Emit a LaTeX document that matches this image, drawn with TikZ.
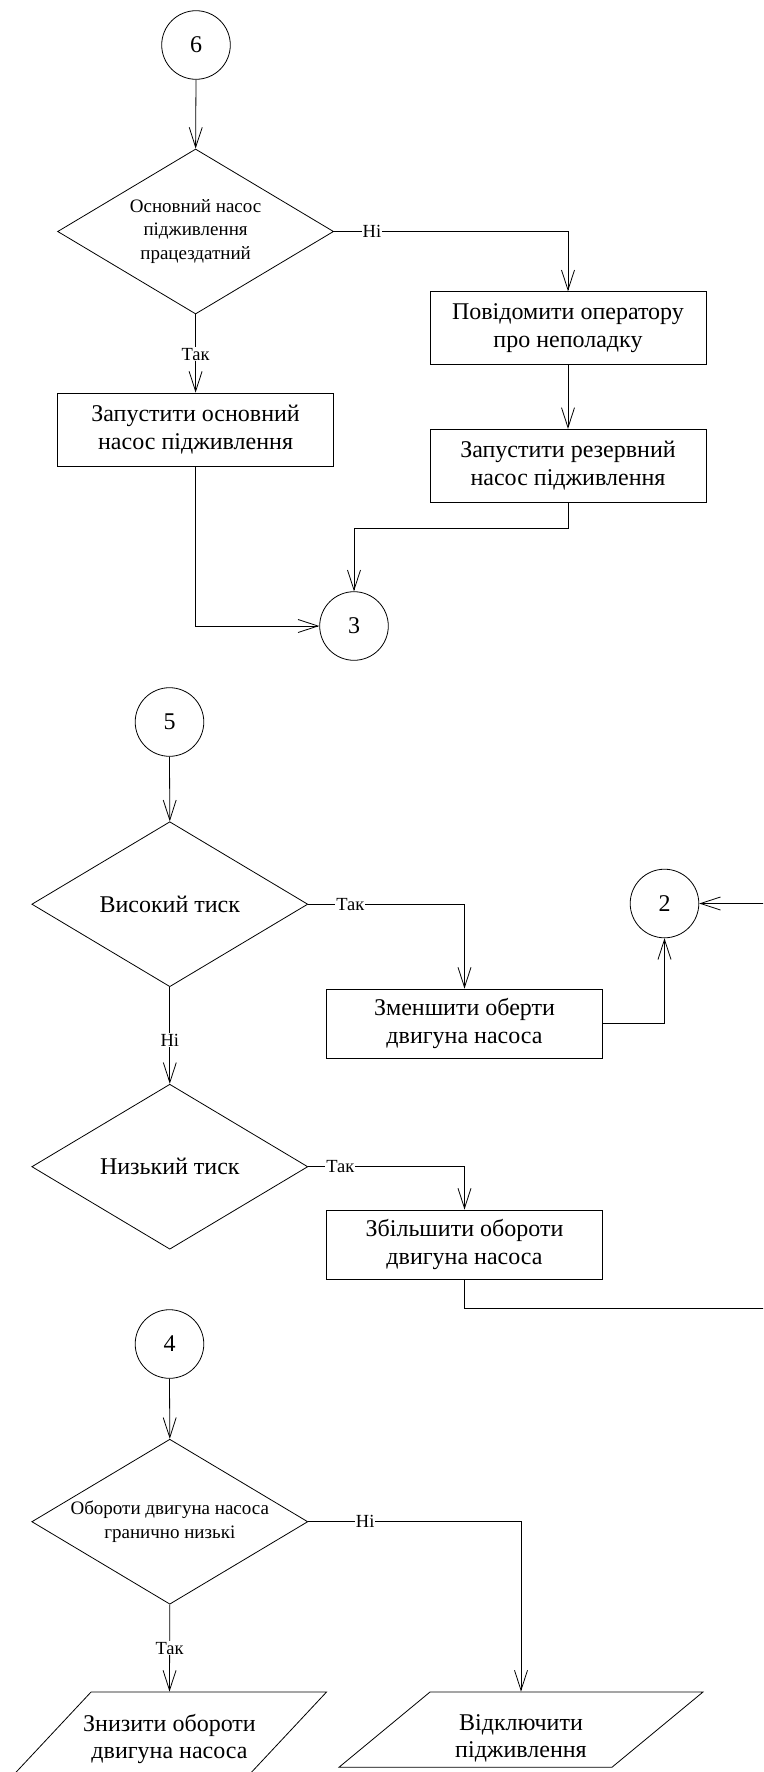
\documentclass[tikz,border=0pt]{standalone}
\usepackage{fontspec}
\setmainfont{Liberation Serif}
\usetikzlibrary{shapes.geometric,arrows.meta}
\begin{document}
\begin{tikzpicture}[x=1pt,y=-1pt,line width=0.8pt,
  conn/.style={draw,-{Straight Barb[length=20pt,width=13pt]}},
  onpage/.style={circle,draw,minimum size=68.6pt,inner sep=0pt,
    font=\fontsize{24}{28}\selectfont},
  procbox/.style={rectangle,draw,inner sep=0pt,align=center,
    font=\fontsize{24}{27.5}\selectfont},
  decision/.style={diamond,draw,inner sep=0pt,
    minimum width=276pt,minimum height=165pt},
  smalltext/.style={align=center,font=\fontsize{19}{23.5}\selectfont},
  bigtext/.style={align=center,font=\fontsize{24}{27.5}\selectfont},
  iobox/.style={trapezium,draw,trapezium left angle=63.4,
    trapezium right angle=116.6,trapezium stretches=true,inner sep=2pt},
  lbl/.style={fill=white,inner sep=1pt,font=\fontsize{18.5}{20}\selectfont}
]
\useasboundingbox (0,0) rectangle (763,1772);
\clip (0,0) rectangle (763,1772);

% ---- block 6 ----
\node[onpage] (c6) at (196,45) {6};
\node[decision,label={[smalltext]center:{Основний насос\\підживлення\\працездатний}}]
  (d1) at (195.6,231.5) {};
\node[procbox,minimum width=276pt,minimum height=72.6pt] (bA) at (568,328)
  {Повідомити оператору\\про неполадку};
\node[procbox,minimum width=276pt,minimum height=72.7pt] (bB) at (568,465.7)
  {Запустити резервний\\насос підживлення};
\node[procbox,minimum width=276.4pt,minimum height=73pt] (bC) at (195.6,429.5)
  {Запустити основний\\насос підживлення};
\node[onpage] (c3) at (354,626) {3};

\draw[conn] (c6.south) -- (d1.north);
\draw[conn] (d1.east) -| node[lbl,pos=0.081] {Ні} (bA.north);
\draw[conn] (d1.south) -- node[lbl,pos=0.51] {Так} (bC.north);
\draw[conn] (bA.south) -- (bB.north);
\draw[conn] (bB.south) -- ++(0,26.3) -| (c3.north);
\draw[conn] (bC.south) |- (c3.west);

% ---- block 5 ----
\node[onpage] (c5) at (169.5,722) {5};
\node[decision,label={[bigtext]center:{Високий тиск}}] (d2) at (169.8,904.2) {};
\node[procbox,minimum width=276pt,minimum height=69pt] (bD) at (464.5,1023.5)
  {Зменшити оберти\\двигуна насоса};
\node[onpage] (c2) at (664.5,903.5) {2};
\node[decision,label={[bigtext]center:{Низький тиск}}] (d3) at (169.8,1166.7) {};
\node[procbox,minimum width=276pt,minimum height=69.3pt] (bE) at (464.5,1244.6)
  {Збільшити обороти\\двигуна насоса};

\draw[conn] (c5.south) -- (d2.north);
\draw[conn] (d2.east) -| node[lbl,pos=0.135] {Так} (bD.north);
\draw[conn] (bD.east) -| (c2.south);
\draw[conn] (d2.south) -- node[lbl,pos=0.55] {Ні} (d3.north);
\draw[conn] (d3.east) -| node[lbl,pos=0.103] {Так} (bE.north);
\draw[conn] (bE.south) |- (800,1308.3) |- (c2.east);

% ---- block 4 ----
\node[onpage] (c4) at (169.5,1344) {4};
\node[decision,label={[smalltext]center:{Обороти двигуна насоса\\гранично низькі}}]
  (d4) at (169.8,1521.7) {};
\node[iobox,minimum width=314pt,minimum height=84pt,
  label={[bigtext,yshift=-5pt]center:{Знизити обороти\\двигуна насоса}}]
  (p1) at (169.5,1734) {};
\node[iobox,minimum width=364pt,minimum height=75.3pt,
  label={[bigtext,yshift=-9pt]center:{Відключити\\підживлення}}]
  (p2) at (521,1729.6) {};

\draw[conn] (c4.south) -- (d4.north);
\draw[conn] (d4.east) -| node[lbl,pos=0.134] {Ні} (p2.center |- p2.north);
\draw[conn] (d4.south) -- node[lbl,pos=0.5] {Так} (p1.center |- p1.north);
\end{tikzpicture}
\end{document}
